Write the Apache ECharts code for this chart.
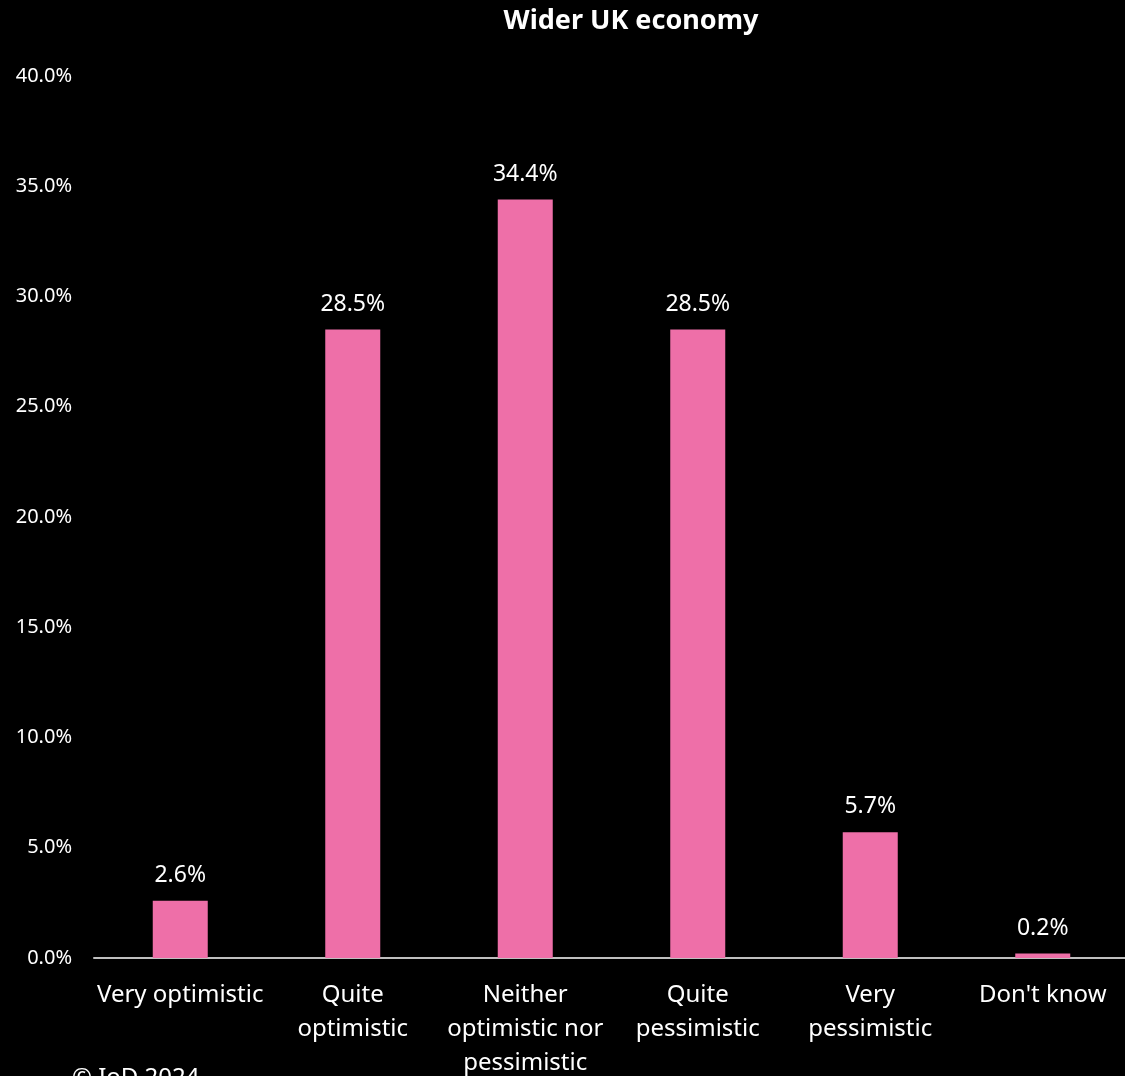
<!DOCTYPE html>
<html><head><meta charset="utf-8">
<script src="https://cdn.jsdelivr.net/npm/echarts@6/dist/echarts.min.js"></script>
<style>html,body{margin:0;padding:0;background:#000;}#c{width:1125px;height:1076px;}</style>
</head><body><div id="c"></div>
<script>
const categories = ["Very optimistic", "Quite\noptimistic", "Neither\noptimistic nor\npessimistic", "Quite\npessimistic", "Very\npessimistic", "Don't know"];
const values = [2.6, 28.5, 34.4, 28.5, 5.7, 0.2];
const yTicks = [0, 5, 10, 15, 20, 25, 30, 35, 40];
const FONT = '"Noto Sans", "Open Sans", sans-serif';
const chart = echarts.init(document.getElementById('c'));
chart.setOption({
  backgroundColor: '#000',
  animation: false,
  title: {
    text: 'Wider UK economy', left: 626, top: 3, textAlign: 'center',
    textStyle: {color: '#fff', fontSize: 27, fontWeight: 'bold', fontFamily: FONT}
  },
  grid: {left: 94, right: -4, top: 76, bottom: 118, containLabel: false, outerBoundsMode: 'none'},
  xAxis: {
    type: 'category', data: categories,
    axisLine: {lineStyle: {color: '#BFBFBF', width: 2}},
    axisTick: {show: false},
    axisLabel: {color: '#fff', fontSize: 24, fontFamily: FONT, lineHeight: 34, margin: 20, interval: 0}
  },
  yAxis: {
    type: 'value', min: yTicks[0], max: yTicks[yTicks.length - 1], interval: 5,
    splitLine: {show: false}, axisLine: {show: false}, axisTick: {show: false},
    axisLabel: {color: '#fff', fontSize: 20, fontFamily: FONT, margin: 22, formatter: v => v.toFixed(1) + '%'}
  },
  series: [{
    type: 'bar', data: values, barWidth: 55,
    itemStyle: {color: '#EE6FA8'},
    label: {show: true, position: 'top', distance: 14, color: '#fff', fontSize: 23, fontFamily: FONT, formatter: p => p.value.toFixed(1) + '%'}
  }],
  graphic: [{
    type: 'text', left: 72, top: 1066,
    style: {text: '© IoD 2024', fill: '#fff', fontSize: 24, fontFamily: FONT}
  }]
});
</script></body></html>
